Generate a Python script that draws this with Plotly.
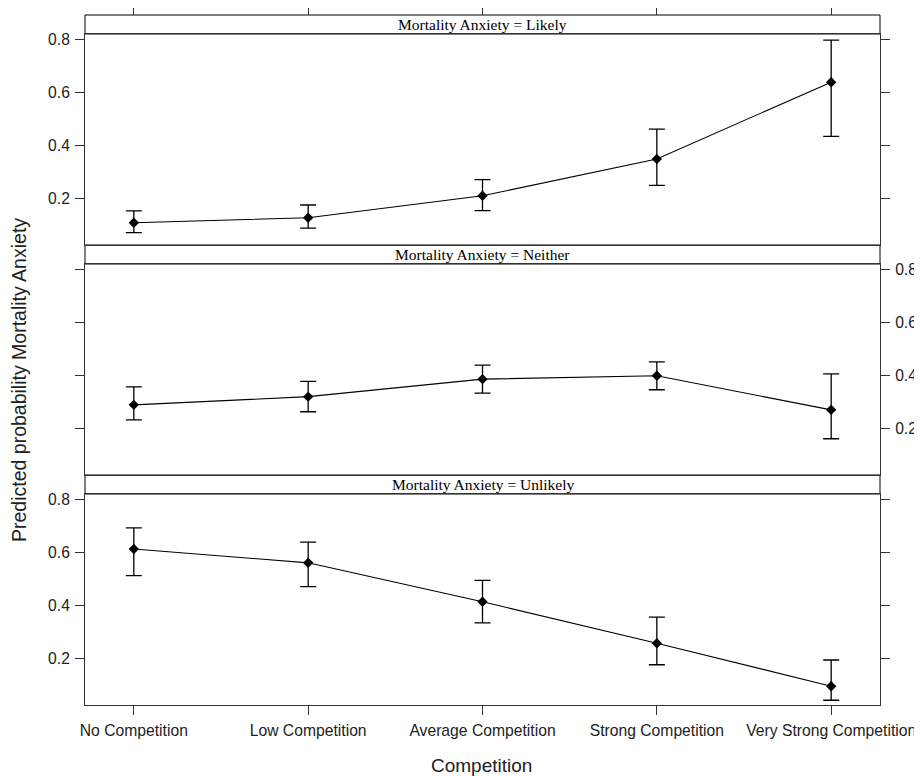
import plotly.graph_objects as go
from plotly.subplots import make_subplots

categories = ["No Competition", "Low Competition", "Average Competition",
              "Strong Competition", "Very Strong Competition"]
panel_labels = ["Mortality Anxiety = Likely", "Mortality Anxiety = Neither",
                "Mortality Anxiety = Unlikely"]

likely_fit = [0.109, 0.128, 0.211, 0.350, 0.640]
likely_lo = [0.072, 0.089, 0.155, 0.250, 0.435]
likely_hi = [0.154, 0.176, 0.272, 0.463, 0.799]

neither_fit = [0.290, 0.321, 0.387, 0.400, 0.271]
neither_lo = [0.233, 0.264, 0.334, 0.347, 0.162]
neither_hi = [0.358, 0.379, 0.440, 0.452, 0.407]

unlikely_fit = [0.614, 0.562, 0.415, 0.258, 0.096]
unlikely_lo = [0.514, 0.472, 0.335, 0.177, 0.043]
unlikely_hi = [0.694, 0.640, 0.496, 0.357, 0.195]

y_ticks = [0.2, 0.4, 0.6, 0.8]

series = [(likely_fit, likely_lo, likely_hi),
          (neither_fit, neither_lo, neither_hi),
          (unlikely_fit, unlikely_lo, unlikely_hi)]

# the page body has an 8px default margin; size the figure to fit the window
BODY = 8
W, H = 922 - BODY, 776 - BODY
ML, MR, MT, MB = 85 - BODY, 42, 15 - BODY, 71
plot_h = H - MT - MB
plot_w = W - ML - MR
strip_px = 19
block = 1.0 / 3
strip_frac = strip_px / plot_h

fig = make_subplots(rows=3, cols=1, shared_xaxes=True, vertical_spacing=0)

for i, (fit, lo, hi) in enumerate(series):
    fig.add_trace(go.Scatter(
        x=categories, y=fit, mode="lines+markers",
        line=dict(color="black", width=1.1),
        marker=dict(symbol="diamond", size=8, color="black"),
        error_y=dict(type="data", symmetric=False,
                     array=[h - f for h, f in zip(hi, fit)],
                     arrayminus=[f - l for f, l in zip(fit, lo)],
                     color="black", thickness=1.3, width=8),
        showlegend=False, hoverinfo="skip"), row=i + 1, col=1)

# invisible trace for top tick axis
fig.add_trace(go.Scatter(x=categories, y=likely_fit, mode="markers",
                         marker=dict(opacity=0), xaxis="x4", yaxis="y",
                         showlegend=False, hoverinfo="skip"))

tick_font = dict(family="Liberation Sans, Arial, sans-serif", size=15.7, color="#222")
line_col = "#333"

for i in range(3):
    top = 1 - i * block
    bottom = top - block
    yname = "yaxis" if i == 0 else f"yaxis{i + 1}"
    xname = "xaxis" if i == 0 else f"xaxis{i + 1}"
    fig.layout[yname].update(
        domain=[bottom, top - strip_frac], range=[0.025, 0.822],
        tickvals=y_ticks, ticktext=[f"{v:.1f}" for v in y_ticks],
        ticks="outside", ticklen=9, tickwidth=1, tickcolor=line_col,
        showline=True, linecolor=line_col, linewidth=1, mirror="ticks",
        side="right" if i == 1 else "left", automargin=False,
        showgrid=False, zeroline=False, tickfont=tick_font, ticklabelstandoff=2)
    fig.layout[xname].update(
        range=[-0.28, 4.28], showline=True, linecolor=line_col, linewidth=1,
        mirror=True, showgrid=False, zeroline=False, automargin=False,
        ticks="outside" if i == 2 else "", ticklen=9, tickcolor=line_col,
        showticklabels=(i == 2), tickfont=tick_font, ticklabelstandoff=2)
    # strip
    fig.add_shape(type="rect", xref="paper", yref="paper",
                  x0=0, x1=1, y0=top - strip_frac, y1=top,
                  line=dict(color="black", width=1), fillcolor="white", layer="below")
    fig.add_annotation(x=0.5, y=top - strip_frac / 2, xref="paper", yref="paper",
                       text=panel_labels[i], showarrow=False,
                       font=dict(family="Liberation Serif, Times New Roman, serif",
                                 size=15.5, color="black"),
                       yanchor="middle", xanchor="center")

fig.update_layout(
    xaxis4=dict(overlaying="x", anchor="free", position=1.0, side="top",
                range=[-0.28, 4.28], categoryorder="array", categoryarray=categories,
                ticks="outside", ticklen=9, tickcolor=line_col, automargin=False,
                showticklabels=False, showgrid=False, zeroline=False,
                showline=False),
)

# positions below are page pixels of the reference (plot area 85..880 x 15..705)
fig.add_annotation(x=(481 - 85) / plot_w, y=-(765 - 705) / plot_h, xref="paper", yref="paper",
                   text="Competition", showarrow=False,
                   font=dict(family="Liberation Sans, Arial, sans-serif", size=19, color="#222"),
                   yanchor="middle", xanchor="center")
fig.add_annotation(x=-(85 - 19) / plot_w, y=(705 - 380) / plot_h, xref="paper", yref="paper",
                   text="Predicted probability Mortality Anxiety", showarrow=False,
                   textangle=-90,
                   font=dict(family="Liberation Sans, Arial, sans-serif", size=19.5, color="#222"),
                   yanchor="middle", xanchor="center")

fig.update_layout(width=W, height=H, margin=dict(l=ML, r=MR, t=MT, b=MB, autoexpand=False),
                  plot_bgcolor="white", paper_bgcolor="white")

fig.write_html("out.html")
